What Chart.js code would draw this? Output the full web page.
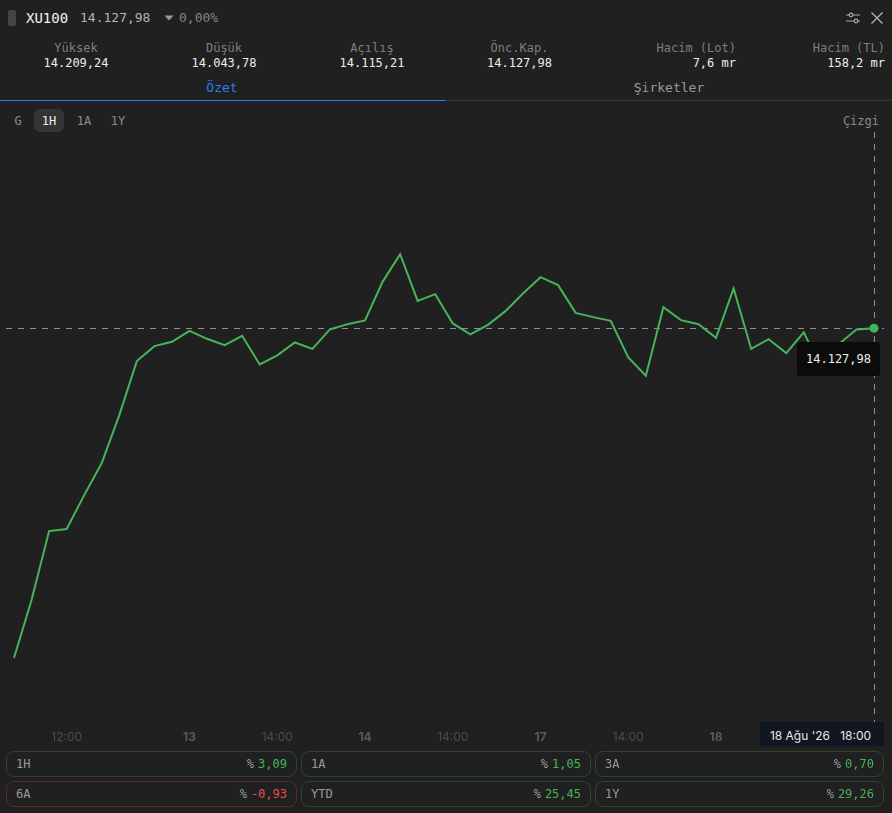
<!DOCTYPE html>
<html>
<head>
<meta charset="utf-8">
<title>XU100</title>
<script src="https://cdn.jsdelivr.net/npm/chart.js@4"></script>
<style>
  html, body { margin: 0; padding: 0; background: #202020; }
  #page { position: relative; width: 892px; height: 813px; overflow: hidden; background: #202020;
    font-family: "DejaVu Sans Mono", monospace; font-size: 12px; color: #8c8c8c; }
  #page div, #page span { white-space: nowrap; }
  .abs { position: absolute; line-height: 16px; }
  .mid { transform: translateX(-50%); text-align: center; }
  .end { transform: translateX(-100%); text-align: right; }
  #chart { position: absolute; left: 0; top: 130px; }
  .pill { position: absolute; height: 24px; box-sizing: content-box; border: 1px solid #2a472f; border-radius: 8px;
    line-height: 24px; color: #9a9a9a; }
  .pill.neg { border-color: #572c2c; }
  .pill .name { position: absolute; left: 9px; }
  .pill .val { position: absolute; right: 9px; }
  .pill .num { color: #46b45a; margin-left: 4px; }
  .pill.neg .num { color: #ef4b4b; }
</style>
</head>
<body>
<div id="page">
  <div class="abs" style="left:8px;top:10px;width:8px;height:16px;background:#444;border-radius:2px"></div>
  <div class="abs" style="left:26px;top:10px;font-size:14px;color:#f2f2f2;font-weight:500">XU100</div>
  <div class="abs" style="left:80px;top:10px;font-size:13px;color:#b4b4b4">14.127,98</div>
  <svg class="abs" style="left:164px;top:15px" width="10" height="6"><path d="M0.5 0.5H9.5L5 5.5Z" fill="#9a9a9a"/></svg>
  <div class="abs" style="left:179px;top:10px;font-size:13px;color:#858585">0,00%</div>
  <svg class="abs" style="left:846px;top:11px" width="14" height="14" fill="none" stroke="#a8a8a8" stroke-width="1.2">
    <path d="M0 4H14M0 10H14"/><circle cx="5" cy="4" r="1.8" fill="#202020"/><circle cx="10" cy="10" r="1.8" fill="#202020"/>
  </svg>
  <svg class="abs" style="left:871px;top:12px" width="12" height="12" fill="none" stroke="#b4b4b4" stroke-width="1.3">
    <path d="M0.5 0.5L11.5 11.5M11.5 0.5L0.5 11.5"/>
  </svg>
  <div id="stats"></div>
  <div class="abs mid" style="left:222px;top:80px;color:#2f7bf0;font-size:13px">Özet</div>
  <div class="abs mid" style="left:669px;top:80px;color:#9a9a9a;font-size:13px">Şirketler</div>
  <div class="abs" style="left:0;top:100px;width:446px;height:1px;background:#2f7bf0"></div>
  <div class="abs" style="left:446px;top:100px;width:446px;height:1px;background:#353535"></div>
  <div class="abs" style="left:34px;top:109px;width:30px;height:23px;background:#343434;border-radius:6px"></div>
  <div id="ranges"></div>
  <div class="abs end" style="left:879px;top:113px;color:#8c8c8c">Çizgi</div>
  <canvas id="chart" width="892" height="620"></canvas>
  <div class="abs" style="left:797px;top:342px;width:83px;height:34px;line-height:34px;background:#0b0b0b;border-radius:3px;color:#efefef;text-align:center">14.127,98</div>
  <div class="abs" style="left:760px;top:722px;width:121px;padding-right:3px;height:24px;line-height:27px;background:#111722;color:#e8e8e8;font-family:Inter,sans-serif;font-size:12px;text-align:center">18 Ağu '26 &nbsp;&nbsp;18:00</div>
  <div id="pills"></div>
</div>
<script>
const xLabels = ["", "", "", "12:00", "", "", "", "", "", "", "13", "", "", "", "", "14:00", "", "", "", "", "14", "", "", "", "", "14:00", "", "", "", "", "17", "", "", "", "", "14:00", "", "", "", "", "18", "", "", "", "", "14:00", "", "", "", ""];
const closes = [13704.6, 13779.0, 13867.5, 13870.1, 13913.7, 13954.8, 14016.4, 14085.7, 14104.9, 14110.4,
  14124.5, 14114.3, 14106.2, 14118.1, 14081.4, 14093.0, 14109.6, 14101.4, 14126.3, 14133.1,
  14137.9, 14187.4, 14222.9, 14163.0, 14171.6, 14134.0, 14119.9, 14132.2, 14149.8, 14172.5,
  14193.4, 14183.2, 14147.6, 14142.1, 14137.4, 14090.4, 14066.8, 14154.9, 14138.3, 14133.1,
  14115.6, 14178.9, 14101.4, 14113.9, 14095.9, 14122.5, 14075.4, 14107.5, 14126.3, 14127.98];
const dayLabels = ["13", "14", "17", "18"];

const statNames = ["Yüksek", "Düşük", "Açılış", "Önc.Kap.", "Hacim (Lot)", "Hacim (TL)"];
const statValues = ["14.209,24", "14.043,78", "14.115,21", "14.127,98", "7,6 mr", "158,2 mr"];
const statX = [76, 224, 372, 519.5, 736, 885];

const rangeNames = ["G", "1H", "1A", "1Y"];
const rangeX = [18, 49, 84, 118];

const perfNames = ["1H", "1A", "3A", "6A", "YTD", "1Y"];
const perfValues = ["3,09", "1,05", "0,70", "-0,93", "25,45", "29,26"];

statNames.forEach((name, i) => {
  const cls = i > 3 ? "end" : "mid";
  document.getElementById("stats").innerHTML +=
    `<div class="abs ${cls}" style="left:${statX[i]}px;top:40px;color:#7e7e7e">${name}</div>` +
    `<div class="abs ${cls}" style="left:${statX[i]}px;top:55px;color:#ececec">${statValues[i]}</div>`;
});

rangeNames.forEach((name, i) => {
  const col = name === "1H" ? "#eeeeee" : "#8c8c8c";
  document.getElementById("ranges").innerHTML +=
    `<div class="abs mid" style="left:${rangeX[i]}px;top:113px;color:${col}">${name}</div>`;
});

const pillX = [6, 301, 595];
const pillW = [289, 288, 287];
perfNames.forEach((name, i) => {
  const col = i % 3;
  const top = i < 3 ? 751 : 781;
  const neg = perfValues[i].startsWith("-") ? " neg" : "";
  document.getElementById("pills").innerHTML +=
    `<div class="pill${neg}" style="left:${pillX[col]}px;top:${top}px;width:${pillW[col]}px">` +
    `<span class="name">${name}</span><span class="val">%<span class="num">${perfValues[i]}</span></span></div>`;
});

// dashed crosshair through the last point, under the line
const crosshair = {
  id: "crosshair",
  beforeDatasetsDraw(chart) {
    const c = chart.ctx;
    const last = closes.length - 1;
    const px = chart.scales.x.getPixelForValue(last);
    const py = chart.scales.y.getPixelForValue(closes[last]);
    c.save();
    c.strokeStyle = "#8f8f94";
    c.lineWidth = 1;
    c.setLineDash([6, 6]);
    c.beginPath();
    c.moveTo(6, Math.round(py) + 0.5);
    c.lineTo(884, Math.round(py) + 0.5);
    c.moveTo(Math.round(px) + 0.5, 2);
    c.lineTo(Math.round(px) + 0.5, chart.chartArea.bottom);
    c.stroke();
    c.restore();
  },
};

new Chart(document.getElementById("chart").getContext("2d"), {
  type: "line",
  data: {
    labels: xLabels,
    datasets: [{
      data: closes,
      borderColor: "#46b45a",
      borderWidth: 2,
      tension: 0,
      pointRadius: closes.map((v, i) => (i === closes.length - 1 ? 4.5 : 0)),
      pointBackgroundColor: "#46b45a",
      pointBorderWidth: 0,
      clip: false,
    }],
  },
  options: {
    responsive: false,
    animation: false,
    layout: { padding: { left: 14, right: 18, top: 0, bottom: 0 } },
    plugins: { legend: { display: false }, tooltip: { enabled: false } },
    scales: {
      x: {
        offset: false,
        grid: { display: false },
        border: { display: false },
        afterFit(scale) { scale.height = 28; },
        ticks: {
          autoSkip: false,
          maxRotation: 0,
          padding: 0,
          color: (ctx) => (dayLabels.includes(ctx.tick.label) ? "#5a5a5a" : "#4c4c4c"),
          font: (ctx) => ({
            family: "Inter, sans-serif",
            size: 12,
            weight: dayLabels.includes(ctx.tick.label) ? "bold" : "normal",
          }),
        },
      },
      y: { display: false, min: 13622.5, max: 14376.5 },
    },
  },
  plugins: [crosshair],
});
</script>
</body>
</html>
